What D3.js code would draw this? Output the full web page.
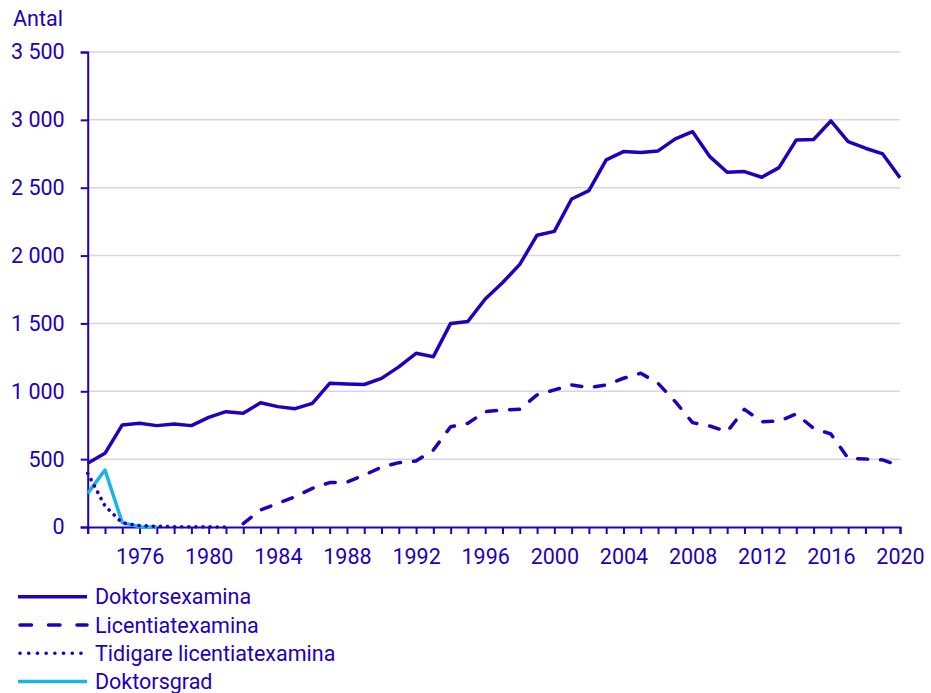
<!DOCTYPE html>
<html>
<head>
<meta charset="utf-8">
<script src="https://cdn.jsdelivr.net/npm/d3@7"></script>
<style>
  body { margin: 0; background: #fff; }
  text { font-family: Roboto, "Noto Sans", sans-serif; }
</style>
</head>
<body>
<div id="myChart"></div>
<script>
// data
var years = d3.range(1973, 2021);

var doktorsexamina = [470, 543, 752, 764, 747, 759, 747, 808, 850, 838,
  916, 887, 872, 911, 1059, 1054, 1050, 1095, 1180, 1280,
  1255, 1500, 1515, 1680, 1800, 1935, 2150, 2178, 2417, 2478,
  2705, 2766, 2759, 2771, 2860, 2913, 2729, 2614, 2619, 2577,
  2648, 2852, 2855, 2992, 2840, 2791, 2749, 2574];

var licYears = d3.range(1982, 2021);
var licentiatexamina = [25, 125, 175, 223, 285, 327, 330, 383, 440, 474,
  486, 567, 739, 764, 850, 862, 867, 973, 1010, 1047,
  1027, 1047, 1096, 1133, 1059, 923, 769, 744, 702, 867,
  776, 780, 833, 727, 685, 506, 501, 494, 450];

var tidYears = d3.range(1973, 1982);
var tidigare = [395, 155, 30, 10, 5, 2, 1, 1, 0];

var gradYears = d3.range(1973, 1978);
var doktorsgrad = [248, 420, 32, 2, 0];

var yTicks = [0, 500, 1000, 1500, 2000, 2500, 3000, 3500];
var xLabelYears = d3.range(1976, 2021, 4);

var dark = "#2200bb";
var light = "#1ab4e8";
var grid = "#d4d4f0";

var width = 931, height = 693;
var x = d3.scaleLinear().domain([1973, 2020]).range([87.7, 900]);
var y = d3.scaleLinear().domain([0, 3500]).range([527, 52]);

var svg = d3.select("#myChart")
    .append("svg")
    .attr("width", width).attr("height", height);

// gridlines
svg.append("g")
    .selectAll("line")
    .data(yTicks.filter(function(d) { return d > 0; }))
    .enter().append("line")
    .attr("x1", x(1973)).attr("x2", x(2020))
    .attr("y1", function(d) { return y(d); })
    .attr("y2", function(d) { return y(d); })
    .attr("stroke", grid)
    .attr("stroke-width", 1.5);

var fmt = function(d) { return d3.format(",")(d).replace(/,/g, " "); };

// y axis
var yAxis = svg.append("g")
    .attr("transform", "translate(" + x(1973) + ",0)")
    .call(d3.axisLeft(y).tickValues(yTicks).tickSize(7).tickPadding(16).tickFormat(fmt));

// x axis
var xAxis = svg.append("g")
    .attr("transform", "translate(0," + y(0) + ")")
    .call(d3.axisBottom(x).tickValues(years).tickSize(7).tickPadding(15)
      .tickFormat(function(d) { return xLabelYears.indexOf(d) >= 0 ? d : ""; }));

[yAxis, xAxis].forEach(function(a) {
  a.select(".domain").attr("stroke", dark).attr("stroke-width", 2);
  a.selectAll(".tick line").attr("stroke", dark).attr("stroke-width", 2);
  a.selectAll(".tick text").attr("fill", dark).style("font-size", "21.5px")
    .style("font-family", "Roboto, sans-serif");
});

svg.append("text")
    .attr("x", 13).attr("y", 26)
    .attr("fill", dark)
    .style("font-size", "21.5px")
    .text("Antal");

// lines
var line = d3.line()
    .x(function(d) { return x(d[0]); })
    .y(function(d) { return y(d[1]); });

var series = [
  { name: "Doktorsexamina", xs: years, vs: doktorsexamina, color: dark, dash: null },
  { name: "Licentiatexamina", xs: licYears, vs: licentiatexamina, color: dark, dash: "10,13" },
  { name: "Tidigare licentiatexamina", xs: tidYears, vs: tidigare, color: dark, dash: "0.1,7" },
  { name: "Doktorsgrad", xs: gradYears, vs: doktorsgrad, color: light, dash: null }
];

series.slice().reverse().forEach(function(s) {
  svg.append("path")
      .datum(d3.zip(s.xs, s.vs))
      .attr("d", line)
      .attr("fill", "none")
      .attr("stroke", s.color)
      .attr("stroke-width", s.dash === "0.1,7" ? 3.6 : 3.5)
      .attr("stroke-linejoin", "round")
      .attr("stroke-linecap", s.dash ? "round" : "butt")
      .attr("stroke-dasharray", s.dash);
});

// legend
var legend = svg.append("g")
    .selectAll("g")
    .data(series)
    .enter().append("g")
    .attr("transform", function(d, i) { return "translate(0," + (596.7 + i * 28.3) + ")"; });

legend.append("line")
    .attr("x1", function(d) { return d.dash ? 20 : 18; })
    .attr("x2", 87)
    .attr("stroke", function(d) { return d.color; })
    .attr("stroke-width", function(d) { return d.dash === "0.1,7" ? 3.6 : 3.5; })
    .attr("stroke-linecap", function(d) { return d.dash ? "round" : "butt"; })
    .attr("stroke-dasharray", function(d) { return d.dash === "10,13" ? "11.5,17" : (d.dash ? "0.1,8.6" : null); });

legend.append("text")
    .attr("x", 95).attr("y", 7.5)
    .attr("fill", dark)
    .style("font-size", "21.5px")
    .text(function(d) { return d.name; });
</script>
</body>
</html>
